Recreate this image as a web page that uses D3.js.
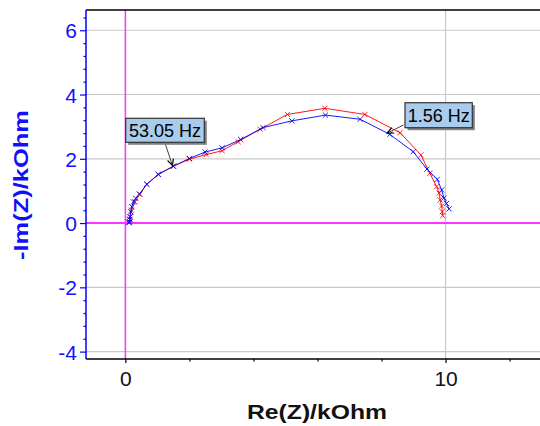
<!DOCTYPE html>
<html><head><meta charset="utf-8">
<script src="https://cdn.jsdelivr.net/npm/d3@7"></script>
<style>html,body{margin:0;padding:0;background:#fff;}svg{display:block;}</style>
</head><body>
<script>
// Re(Z) / -Im(Z) in kOhm
const redRe = [0.115,0.13,0.147,0.19,0.30,0.45,0.67,1.03,1.50,2.00,2.52,3.02,3.52,4.21,5.06,6.23,7.48,8.58,9.23,9.51,9.72,9.80,9.83,9.88,9.90,9.91];
const redIm = [0.016,0.11,0.20,0.40,0.66,0.90,1.21,1.52,1.77,1.99,2.13,2.25,2.53,2.92,3.38,3.57,3.38,2.81,2.12,1.55,1.13,0.93,0.72,0.53,0.35,0.23];
const blueRe = [0.115,0.125,0.14,0.147,0.169,0.20,0.25,0.325,0.437,0.668,1.03,1.50,2.00,2.49,3.02,3.60,4.30,5.20,6.25,7.33,8.26,8.99,9.42,9.74,9.88,9.95,10.03,10.11];
const blueIm = [0.016,0.04,0.12,0.196,0.35,0.51,0.66,0.77,0.90,1.21,1.51,1.77,2.01,2.21,2.34,2.60,2.97,3.18,3.36,3.23,2.76,2.22,1.68,1.36,1.03,0.78,0.61,0.44];
const xMajor = [0,10];
const xMinor = [2,4,6,8,12];
const yMajor = [-4,-2,0,2,4,6];
const annotations = [
  {text:"53.05 Hz", re:1.47, im:1.79, bx:125.7, by:118.3, bw:78.6, bh:24, ax:165, ay:143},
  {text:"1.56 Hz", re:8.18, im:2.80, bx:405, by:102.7, bw:67.3, bh:25, ax:403.5, ay:125}
];

const W=540,H=426;
const L=86,R=540,T=10,B=359;
const svg=d3.select("body").append("svg").attr("width",W).attr("height",H)
  .style("font-family","'Liberation Sans',Arial,sans-serif");
const x=d3.scaleLinear().domain([-1.23,12.95]).range([L,R]);
const y=d3.scaleLinear().domain([-4.23,6.63]).range([B,T]);
const fmt=d=>String(d);

// grid
const g=svg.append("g");
yMajor.filter(v=>v!==0).forEach(v=>{
  g.append("line").attr("x1",L).attr("x2",R).attr("y1",y(v)).attr("y2",y(v))
   .attr("stroke","#c8c8c8").attr("stroke-width",1.2);
});
xMajor.filter(v=>v!==0).forEach(v=>{
  g.append("line").attr("x1",x(v)).attr("x2",x(v)).attr("y1",T).attr("y2",B)
   .attr("stroke","#c8c8c8").attr("stroke-width",1.2);
});
g.append("line").attr("x1",L).attr("x2",R).attr("y1",y(0)).attr("y2",y(0))
  .attr("stroke","#ff33ff").attr("stroke-width",2);
g.append("line").attr("x1",x(0)).attr("x2",x(0)).attr("y1",T).attr("y2",B)
  .attr("stroke","#ff33ff").attr("stroke-width",1.5);

// top border
svg.append("line").attr("x1",L).attr("x2",R).attr("y1",T).attr("y2",T).attr("stroke","#000").attr("stroke-width",1.5);

// x axis
const xAxis=d3.axisBottom(x).tickValues(xMajor).tickSize(4).tickSizeOuter(0).tickPadding(8).tickFormat(fmt);
const xg=svg.append("g").attr("transform",`translate(0,${B})`).call(xAxis);
xg.select(".domain").attr("stroke","#000").attr("stroke-width",1.5).attr("d",`M${L},0H${R}`);
xg.selectAll(".tick text").attr("font-size",21).attr("fill","#111").attr("font-family","'Liberation Sans',Arial,sans-serif");
xg.selectAll(".tick line").attr("stroke","#000").attr("stroke-width",1.2);
const xmg=svg.append("g").attr("transform",`translate(0,${B})`).call(d3.axisBottom(x).tickValues(xMinor).tickSize(2.5).tickFormat(""));
xmg.select(".domain").remove();
xmg.selectAll(".tick line").attr("stroke","#000").attr("stroke-width",1.2);

// y axis
const yMinor=d3.range(-40,67,4).map(v=>v/10).filter(v=>!yMajor.some(m=>Math.abs(m-v)<1e-9));
const ymg=svg.append("g").attr("transform",`translate(${L},0)`).call(d3.axisLeft(y).tickValues(yMinor).tickSize(2.5).tickFormat(""));
ymg.select(".domain").remove();
ymg.selectAll(".tick line").attr("stroke","#0000ff").attr("stroke-width",1.2);
const yg=svg.append("g").attr("transform",`translate(${L},0)`).call(d3.axisLeft(y).tickValues(yMajor).tickSize(6).tickSizeOuter(0).tickPadding(3).tickFormat(fmt));
yg.select(".domain").attr("stroke","#0000ff").attr("stroke-width",1.5).attr("d",`M0,${T}V${B}`);
yg.selectAll(".tick line").attr("stroke","#0000ff").attr("stroke-width",1.2);
yg.selectAll(".tick text").attr("font-size",21).attr("fill","#1010ff").attr("font-family","'Liberation Sans',Arial,sans-serif").attr("dy","0.36em");

// axis labels
svg.append("text").attr("x",317).attr("y",419).attr("text-anchor","middle")
  .attr("font-size",20).attr("font-weight","bold").attr("fill","#111")
  .attr("textLength",140).attr("lengthAdjust","spacingAndGlyphs").text("Re(Z)/kOhm");
svg.append("text").attr("transform","translate(28,185) rotate(-90)").attr("text-anchor","middle")
  .attr("font-size",20).attr("font-weight","bold").attr("fill","#1010ff")
  .attr("textLength",150).attr("lengthAdjust","spacingAndGlyphs").text("-Im(Z)/kOhm");

// series
function drawSeries(re,im,color){
  const pts=re.map((v,i)=>[v,im[i]]);
  const line=d3.line().x(d=>x(d[0])).y(d=>y(d[1]));
  svg.append("path").datum(pts).attr("d",line).attr("fill","none").attr("stroke",color).attr("stroke-width",1).attr("stroke-opacity",0.9);
  const s=2.6;
  svg.append("g").selectAll("path").data(pts).join("path")
    .attr("d",d=>{const px=x(d[0]),py=y(d[1]);return `M${px-s},${py-s}L${px+s},${py+s}M${px-s},${py+s}L${px+s},${py-s}`;})
    .attr("stroke",color).attr("stroke-width",1).attr("fill","none").attr("stroke-opacity",0.85);
}
drawSeries(redRe,redIm,"#ff0000");
drawSeries(blueRe,blueIm,"#0000ff");

// annotations
annotations.forEach(a=>{
  const px=x(a.re),py=y(a.im);
  const ag=svg.append("g");
  ag.append("line").attr("x1",a.ax).attr("y1",a.ay).attr("x2",px).attr("y2",py).attr("stroke","#444").attr("stroke-width",1);
  const ang=Math.atan2(py-a.ay,px-a.ax);
  const hl=7,hw=0.45;
  const p1=[px-hl*Math.cos(ang-hw),py-hl*Math.sin(ang-hw)];
  const p2=[px-hl*Math.cos(ang+hw),py-hl*Math.sin(ang+hw)];
  ag.append("path").attr("d",`M${p1[0]},${p1[1]}L${px},${py}L${p2[0]},${p2[1]}`).attr("fill","none").attr("stroke","#000").attr("stroke-width",1.2);
  ag.append("rect").attr("x",a.bx+2.5).attr("y",a.by+2.5).attr("width",a.bw).attr("height",a.bh).attr("fill","#808080");
  ag.append("rect").attr("x",a.bx).attr("y",a.by).attr("width",a.bw).attr("height",a.bh).attr("fill","#a9cbec").attr("stroke","#333").attr("stroke-width",1.2);
  ag.append("text").attr("x",a.bx+a.bw/2).attr("y",a.by+a.bh/2).attr("dy","0.36em").attr("text-anchor","middle")
    .attr("font-size",18).attr("fill","#000").text(a.text);
});
</script>
</body></html>
